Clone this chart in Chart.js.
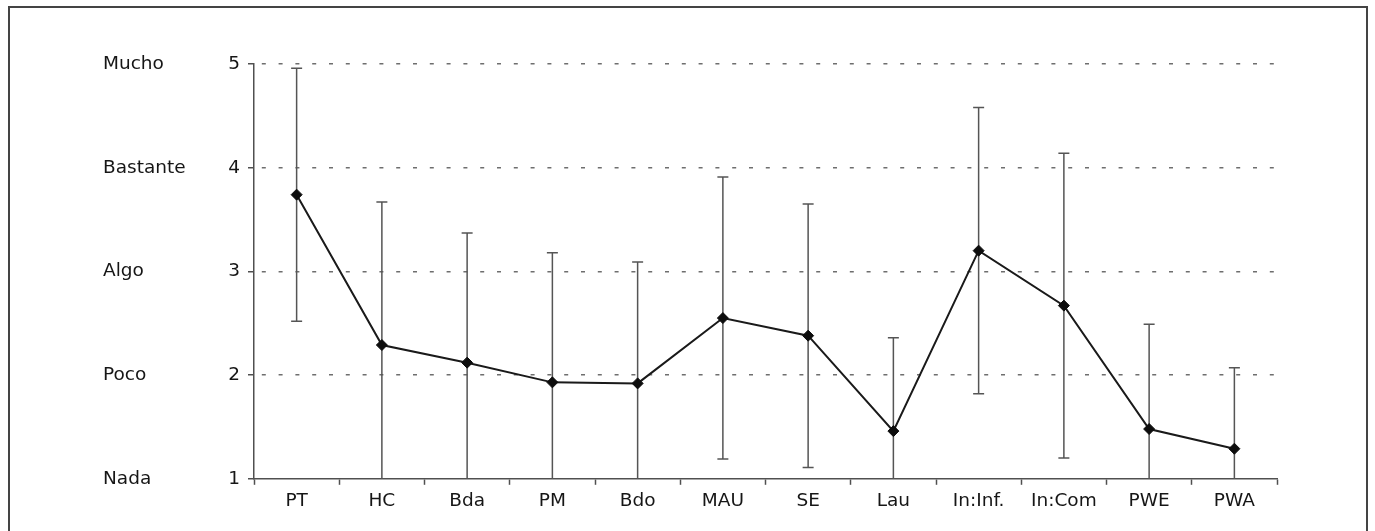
<!DOCTYPE html>
<html>
<head>
<meta charset="utf-8">
<script src="https://cdn.jsdelivr.net/npm/chart.js@4/dist/chart.umd.min.js"></script>
<style>
  html, body { margin: 0; padding: 0; background: #fff; overflow: hidden; }
  #wrap { position: relative; width: 1375px; height: 531px; }
  #frame {
    position: absolute; left: 8px; top: 6px; width: 1356px; height: 600px;
    border: 2px solid #444; border-bottom: none; pointer-events: none;
  }
  canvas { position: absolute; left: 0; top: 0; }
</style>
</head>
<body>
<div id="wrap">
  <canvas id="chart" width="1375" height="531"></canvas>
  <div id="frame"></div>
</div>
<script>
// Categories along the horizontal axis
const categories = ['PT', 'HC', 'Bda', 'PM', 'Bdo', 'MAU', 'SE', 'Lau', 'In:Inf.', 'In:Com', 'PWE', 'PWA'];
// Mean rating for each category
const means = [3.74, 2.29, 2.12, 1.93, 1.92, 2.55, 2.38, 1.46, 3.20, 2.67, 1.48, 1.29];
// Standard deviation drawn as error bars
const sds = [1.22, 1.38, 1.25, 1.25, 1.17, 1.36, 1.27, 0.90, 1.38, 1.47, 1.01, 0.78];
// Scale values and their verbal anchors
const scaleValues = [1, 2, 3, 4, 5];
const scaleWords = ['Nada', 'Poco', 'Algo', 'Bastante', 'Mucho'];

const FONT = { family: '"DejaVu Sans", sans-serif', size: 18.5 };
const TEXT = '#161616';
const AXIS = '#505050';

// Vertical mean ± SD bars, clipped to the value range of the axis
const errorBars = {
  id: 'errorBars',
  beforeDatasetsDraw(chart) {
    const { ctx, scales: { x, y } } = chart;
    const cap = 5.5;
    ctx.save();
    ctx.strokeStyle = '#555';
    ctx.lineWidth = 1.5;
    means.forEach((m, i) => {
      const px = x.getPixelForValue(i);
      const hi = m + sds[i];
      const lo = m - sds[i];
      const yHi = y.getPixelForValue(Math.min(hi, y.max));
      const yLo = y.getPixelForValue(Math.max(lo, y.min));
      ctx.beginPath();
      ctx.moveTo(px, yHi);
      ctx.lineTo(px, yLo);
      if (hi <= y.max) { ctx.moveTo(px - cap, yHi); ctx.lineTo(px + cap, yHi); }
      if (lo >= y.min) { ctx.moveTo(px - cap, yLo); ctx.lineTo(px + cap, yLo); }
      ctx.stroke();
    });
    ctx.restore();
  }
};

new Chart(document.getElementById('chart'), {
  type: 'line',
  data: {
    labels: categories,
    datasets: [{
      data: means,
      borderColor: '#1a1a1a',
      borderWidth: 2,
      tension: 0,
      pointStyle: 'rectRot',
      pointRadius: 5.5,
      pointBackgroundColor: '#0d0d0d',
      pointBorderColor: '#0d0d0d',
      pointBorderWidth: 1
    }]
  },
  options: {
    responsive: false,
    animation: false,
    events: [],
    layout: { padding: { left: 103, right: 98, top: 64, bottom: 14 } },
    plugins: { legend: { display: false }, tooltip: { enabled: false } },
    scales: {
      x: {
        offset: true,
        grid: {
          offset: true,
          drawOnChartArea: false,
          drawTicks: true,
          tickLength: 6,
          tickColor: AXIS,
          tickWidth: 1.5
        },
        border: { display: true, color: AXIS, width: 1.5 },
        ticks: { color: TEXT, font: FONT, padding: 5, maxRotation: 0, autoSkip: false }
      },
      y: {
        min: scaleValues[0],
        max: scaleValues[scaleValues.length - 1],
        weight: 0,
        afterFit(scale) { scale.width = 26; },
        afterBuildTicks(scale) { scale.ticks = scaleValues.map(v => ({ value: v })); },
        grid: {
          color: (c) => (c.tick && c.tick.value === scaleValues[0]) ? 'rgba(0,0,0,0)' : '#6e6e6e',
          lineWidth: 1.5,
          tickLength: 6,
          tickColor: AXIS,
          tickWidth: 1.5,
          tickBorderDash: []
        },
        border: { display: true, color: AXIS, width: 1.5, dash: [4, 12.8], dashOffset: 9.5 },
        ticks: { color: TEXT, font: FONT, padding: 8, callback: (v) => String(v) }
      },
      yWords: {
        type: 'linear',
        position: 'left',
        min: scaleValues[0],
        max: scaleValues[scaleValues.length - 1],
        weight: 1,
        afterFit(scale) { scale.width = 125; },
        afterBuildTicks(scale) { scale.ticks = scaleValues.map(v => ({ value: v })); },
        grid: { display: false, drawTicks: false },
        border: { display: false },
        ticks: {
          color: TEXT, font: FONT, padding: 0, crossAlign: 'far',
          callback: (v) => scaleWords[scaleValues.indexOf(v)]
        }
      }
    }
  },
  plugins: [errorBars]
});
</script>
</body>
</html>
